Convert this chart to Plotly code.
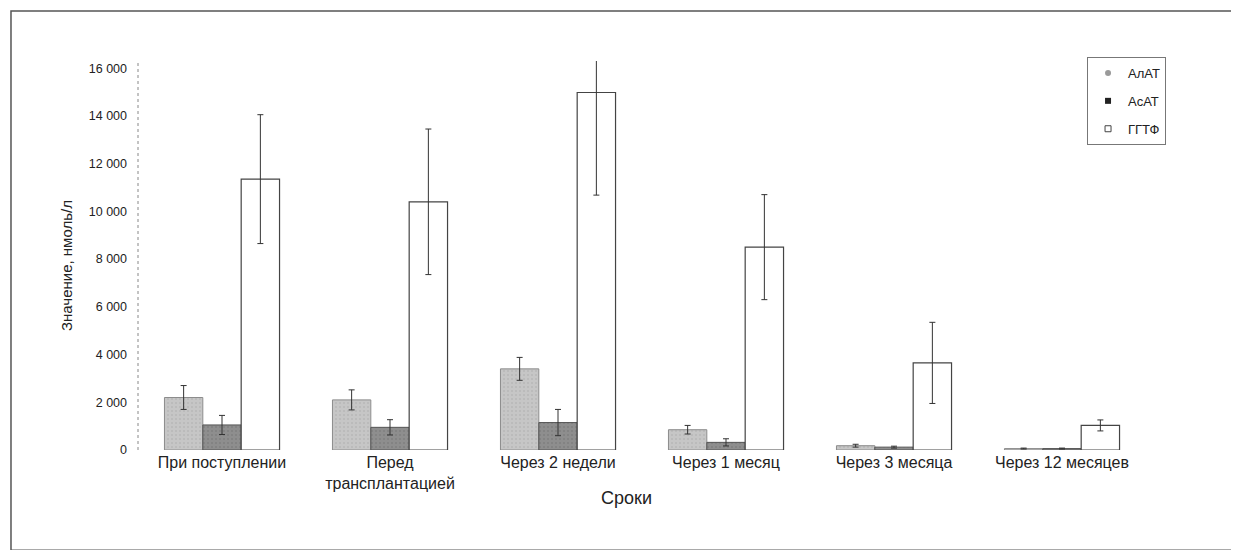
import plotly.graph_objects as go

categories = ["При поступлении", "Перед<br>трансплантацией", "Через 2 недели",
              "Через 1 месяц", "Через 3 месяца", "Через 12 месяцев"]
alat = [2200, 2100, 3400, 850, 180, 60]
alat_err = [500, 420, 480, 180, 60, 20]
asat = [1050, 950, 1150, 320, 120, 60]
asat_err = [400, 320, 550, 150, 40, 20]
ggtf = [11350, 10400, 14980, 8500, 3650, 1030]
ggtf_err_plus = [2700, 3050, 1350, 2200, 1700, 230]
ggtf_err_minus = [2700, 3050, 4300, 2200, 1700, 230]
y_ticks = [0, 2000, 4000, 6000, 8000, 10000, 12000, 14000, 16000]
y_ticktext = ["0", "2 000", "4 000", "6 000", "8 000", "10 000", "12 000", "14 000", "16 000"]
series_names = ["АлАТ", "АсАТ", "ГГТФ"]

FONT = "Liberation Sans, Arial, sans-serif"
err_style = dict(type="data", color="#333333", thickness=1, width=3)

fill_colors = ["#c6c6c6", "#8e8e8e", "white"]
line_colors = ["#8c8c8c", "#555555", "#444444"]
legend_markers = [
    dict(symbol="circle", size=6, color="#9a9a9a", line=dict(color="#9a9a9a", width=0)),
    dict(symbol="square", size=6, color="#222222", line=dict(color="#222222", width=0)),
    dict(symbol="square-open", size=6, color="#444444", line=dict(color="#444444", width=1)),
]

fig = go.Figure()
fig.add_trace(go.Bar(
    name=series_names[0], x=categories, y=alat, showlegend=False,
    marker=dict(color=fill_colors[0], line=dict(color=line_colors[0], width=1),
                pattern=dict(shape=".", fgcolor="#aaaaaa", size=4, solidity=0.2)),
    error_y=dict(array=alat_err, **err_style),
))
fig.add_trace(go.Bar(
    name=series_names[1], x=categories, y=asat, showlegend=False,
    marker=dict(color=fill_colors[1], line=dict(color=line_colors[1], width=1),
                pattern=dict(shape=".", fgcolor="#707070", size=4, solidity=0.2)),
    error_y=dict(array=asat_err, **err_style),
))
fig.add_trace(go.Bar(
    name=series_names[2], x=categories, y=ggtf, showlegend=False,
    marker=dict(color=fill_colors[2], line=dict(color=line_colors[2], width=1.2)),
    error_y=dict(array=ggtf_err_plus, arrayminus=ggtf_err_minus, symmetric=False, **err_style),
))
for i, nm in enumerate(series_names):
    fig.add_trace(go.Scatter(
        name=nm, x=[None], y=[None], mode="markers", marker=legend_markers[i],
        legendgroup=nm, showlegend=True,
    ))

fig.update_layout(
    width=1239, height=550,
    margin=dict(l=130, r=101, t=53, b=108),
    paper_bgcolor="white", plot_bgcolor="white",
    barmode="group", bargap=0.315, bargroupgap=0,
    font=dict(family=FONT, color="#222222", size=12),
    showlegend=True,
    legend=dict(x=0.9415, y=1.0103, xanchor="left", yanchor="top",
                bordercolor="#777777", borderwidth=1, bgcolor="white",
                font=dict(size=13, family=FONT), itemwidth=30,
                tracegroupgap=8),
    xaxis=dict(showline=False, showgrid=False, ticks="", automargin=False,
               tickfont=dict(size=16, family=FONT), ticklabelstandoff=1),
    yaxis=dict(range=[0, 16300], tickvals=y_ticks, ticktext=y_ticktext,
               showgrid=False, showline=False, zeroline=False, ticks="",
               automargin=False, ticklabelstandoff=10,
               tickfont=dict(size=12.5, family=FONT)),
    annotations=[
        dict(text="Сроки", xref="paper", yref="paper", x=0.485, y=-0.123,
             xanchor="center", yanchor="middle", showarrow=False,
             font=dict(size=18, family=FONT, color="#222222")),
        dict(text="Значение, нмоль/л", xref="paper", yref="paper", x=-0.0714, y=0.473,
             xanchor="center", yanchor="middle", showarrow=False, textangle=-90,
             font=dict(size=15, family=FONT, color="#222222")),
    ],
    shapes=[
        dict(type="line", xref="x domain", yref="y domain", x0=0, x1=0, y0=0, y1=1,
             line=dict(color="#888888", width=1, dash="dot")),
        dict(type="rect", xref="paper", yref="paper",
             x0=-0.126, x1=1.0975, y0=-0.258, y1=1.1285,
             line=dict(color="#555555", width=1.5)),
    ],
)

fig.write_html("out.html")
